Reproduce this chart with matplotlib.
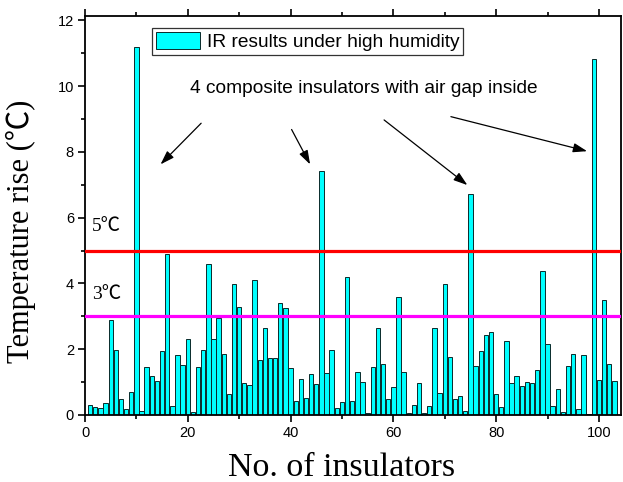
import matplotlib
matplotlib.use("Agg")
import matplotlib.pyplot as plt
from matplotlib.ticker import MultipleLocator
import numpy as np

insulator_no = list(range(1, 104))
temp_rise = [
    0.29, 0.23, 0.20, 0.36, 2.90, 1.97, 0.50, 0.17, 0.69, 11.2,
    0.13, 1.45, 1.18, 1.02, 1.95, 4.88, 0.26, 1.83, 1.53, 2.30,
    0.09, 1.45, 1.97, 4.60, 2.30, 2.94, 1.85, 0.63, 3.99, 3.27,
    0.96, 0.92, 4.09, 1.66, 2.63, 1.72, 1.72, 3.40, 3.24, 1.43,
    0.42, 1.09, 0.51, 1.26, 0.94, 7.42, 1.27, 1.97, 0.22, 0.40,
    4.19, 0.42, 1.30, 1.00, 0.05, 1.45, 2.65, 1.55, 0.50, 0.86,
    3.60, 1.30, 0.05, 0.29, 0.98, 0.05, 0.26, 2.63, 0.67, 3.99,
    1.77, 0.50, 0.59, 0.13, 6.72, 1.48, 1.95, 2.44, 2.51, 0.63,
    0.25, 2.26, 0.98, 1.18, 0.88, 1.01, 0.96, 1.36, 4.37, 2.16,
    0.28, 0.78, 0.08, 1.50, 1.84, 0.17, 1.82, 0.03, 10.81, 1.06,
    3.50, 1.54, 1.04,
]
threshold_high = 5
threshold_low = 3
legend_label = "IR results under high humidity"
note_text = "4 composite insulators with air gap inside"

serif = ["Liberation Serif", "Noto Sans CJK SC", "DejaVu Sans"]
sans = ["Liberation Sans", "DejaVu Sans"]

fig = plt.figure(figsize=(6.23, 4.82), dpi=100)
ax = fig.add_axes([85/623, 1 - 415/482, 536/623, 399/482])

ax.bar(insulator_no, temp_rise, width=0.85, color="#00FFFF",
       edgecolor="#0a2a2a", linewidth=0.7, label=legend_label, zorder=2)

ax.axhline(threshold_high, color="#FF0000", linewidth=2.3, zorder=3)
ax.axhline(threshold_low, color="#FF00FF", linewidth=2.3, zorder=3)

ax.text(1.3, 5.74, "5℃", family=serif, fontsize=14, va="center", ha="left")
ax.text(1.3, 3.65, "3℃", family=serif, fontsize=14, va="center", ha="left")

ax.text(54.3, 9.94, note_text, family=sans, fontsize=13.8, ha="center", va="center")

arrows = [((22.6, 8.87), (14.7, 7.62)),
          ((40.2, 8.68), (43.8, 7.62)),
          ((58.2, 8.97), (74.4, 6.99)),
          ((71.2, 9.07), (97.7, 8.02))]
for (sx, sy), (ex, ey) in arrows:
    ax.annotate("", xy=(ex, ey), xytext=(sx, sy),
                arrowprops=dict(arrowstyle="-|>,head_length=0.6,head_width=0.2",
                                color="black", lw=0.9,
                                mutation_scale=14, shrinkA=0, shrinkB=0))

ax.set_xlim(0, 104.3)
ax.set_ylim(0, 12.13)
ax.xaxis.set_major_locator(MultipleLocator(20))
ax.xaxis.set_minor_locator(MultipleLocator(10))
ax.yaxis.set_major_locator(MultipleLocator(2))
ax.yaxis.set_minor_locator(MultipleLocator(1))
ax.tick_params(axis="both", which="major", direction="out", length=5, width=1.2,
               labelsize=10.5, pad=3)
ax.tick_params(axis="both", which="minor", direction="out", length=3, width=1.2)
ax.tick_params(axis="x", which="both", top=True)
for lbl in ax.get_xticklabels() + ax.get_yticklabels():
    lbl.set_family(sans)
for s in ax.spines.values():
    s.set_linewidth(1.3)

ax.set_xlabel("No. of insulators", family=serif, fontsize=24.5)
ax.set_ylabel("Temperature rise (℃)", family=serif, fontsize=22)
ax.xaxis.set_label_coords(0.479, -0.095)
ax.yaxis.set_label_coords(-0.092, 0.46)

leg = ax.legend(loc="upper left", bbox_to_anchor=(0.125, 0.97),
                prop={"family": sans, "size": 13.8},
                frameon=True, fancybox=False, edgecolor="black", handlelength=2.3,
                handleheight=1.0, borderpad=0.2, handletextpad=0.35, borderaxespad=0)
leg.get_frame().set_linewidth(0.9)

fig.savefig("out.png", dpi=100)
